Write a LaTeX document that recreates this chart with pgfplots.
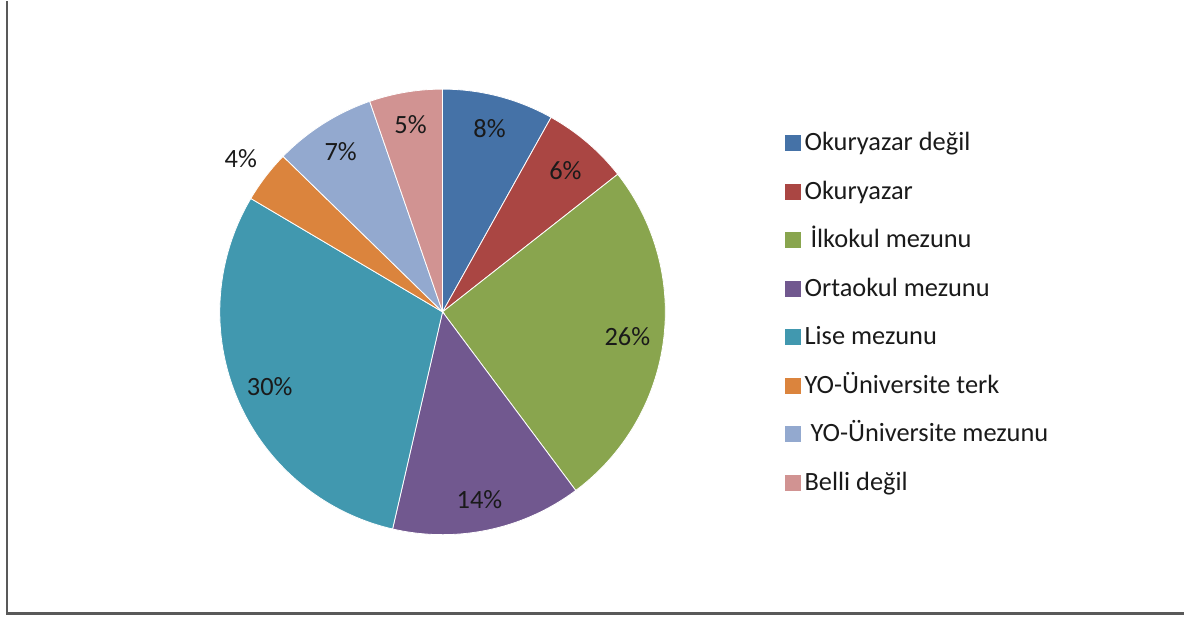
\documentclass[border=0pt]{standalone}
\usepackage{pgfplots}
\pgfplotsset{compat=1.18}
\usepackage{fontspec}
\setmainfont{Carlito}
\definecolor{c1}{HTML}{4572A7}
\definecolor{c2}{HTML}{AA4643}
\definecolor{c3}{HTML}{89A54E}
\definecolor{c4}{HTML}{71588F}
\definecolor{c5}{HTML}{4198AF}
\definecolor{c6}{HTML}{DB843D}
\definecolor{c7}{HTML}{93A9CF}
\definecolor{c8}{HTML}{D19392}
\definecolor{txt}{HTML}{1A1A1A}
% shares (%): 8.1 6.3 25.4 13.8 29.9 3.8 7.4 5.3 ; start at 90 deg, clockwise
\begin{document}
\begin{tikzpicture}
\begin{axis}[
  width=592.5pt, height=308pt, scale only axis,
  xmin=0, xmax=1185, ymin=0, ymax=616,
  hide axis, clip=false,
  legend style={at={(axis cs:779,494)}, anchor=north west, draw=none, fill=none,
    font=\fontsize{13.2pt}{15pt}\selectfont\color{txt}, row sep=7.8pt,
    nodes={inner sep=2pt, text height=9.5pt, text depth=3pt}},
  legend cell align=left,
  legend image code/.code={\fill[#1,draw=none] (0pt,-3.6pt) rectangle (8pt,4.4pt);},
]
\path (axis cs:0,0) (axis cs:1185,616);
\def\cx{443}\def\cy{305}\def\r{223}
\addplot[fill=c1, draw=white, line width=0.4pt, domain=60.84:90, samples=40]
  ({\cx+\r*cos(x)},{\cy+\r*sin(x)}) -- (axis cs:\cx,\cy) -- cycle;
\addlegendentry{Okuryazar değil}
\addplot[fill=c2, draw=white, line width=0.4pt, domain=38.16:60.84, samples=40]
  ({\cx+\r*cos(x)},{\cy+\r*sin(x)}) -- (axis cs:\cx,\cy) -- cycle;
\addlegendentry{Okuryazar}
\addplot[fill=c3, draw=white, line width=0.4pt, domain=-53.28:38.16, samples=80]
  ({\cx+\r*cos(x)},{\cy+\r*sin(x)}) -- (axis cs:\cx,\cy) -- cycle;
\addlegendentry{\ İlkokul mezunu}
\addplot[fill=c4, draw=white, line width=0.4pt, domain=-102.96:-53.28, samples=50]
  ({\cx+\r*cos(x)},{\cy+\r*sin(x)}) -- (axis cs:\cx,\cy) -- cycle;
\addlegendentry{Ortaokul mezunu}
\addplot[fill=c5, draw=white, line width=0.4pt, domain=-210.6:-102.96, samples=90]
  ({\cx+\r*cos(x)},{\cy+\r*sin(x)}) -- (axis cs:\cx,\cy) -- cycle;
\addlegendentry{Lise mezunu}
\addplot[fill=c6, draw=white, line width=0.4pt, domain=-224.28:-210.6, samples=20]
  ({\cx+\r*cos(x)},{\cy+\r*sin(x)}) -- (axis cs:\cx,\cy) -- cycle;
\addlegendentry{YO-Üniversite terk}
\addplot[fill=c7, draw=white, line width=0.4pt, domain=-250.92:-224.28, samples=30]
  ({\cx+\r*cos(x)},{\cy+\r*sin(x)}) -- (axis cs:\cx,\cy) -- cycle;
\addlegendentry{\ YO-Üniversite mezunu}
\addplot[fill=c8, draw=white, line width=0.4pt, domain=-270:-250.92, samples=25]
  ({\cx+\r*cos(x)},{\cy+\r*sin(x)}) -- (axis cs:\cx,\cy) -- cycle;
\addlegendentry{Belli değil}
\begin{scope}[every node/.style={font=\fontsize{13.2pt}{15pt}\selectfont, text=txt}]
\node at (axis cs:490,488) {8\%};
\node at (axis cs:566,446) {6\%};
\node at (axis cs:628,280) {26\%};
\node at (axis cs:480,117) {14\%};
\node at (axis cs:270,230) {30\%};
\node at (axis cs:241,458) {4\%};
\node at (axis cs:341,465) {7\%};
\node at (axis cs:411,492) {5\%};
\end{scope}
\draw[color=black!65, line width=1.2pt] (axis cs:7,616) -- (axis cs:7,3) -- (axis cs:1185,3);
\end{axis}
\end{tikzpicture}
\end{document}
